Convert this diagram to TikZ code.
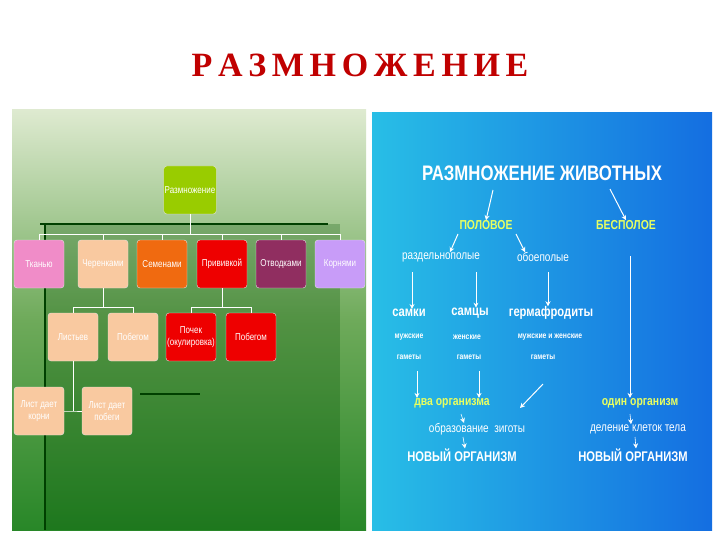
\documentclass[tikz,border=0pt]{standalone}
\usepackage{fontspec}
\setmainfont{Liberation Sans}
\newfontfamily\serifbf{Liberation Serif}
\newfontfamily\nar[FakeStretch=0.8]{Liberation Sans}
\usetikzlibrary{arrows.meta}
\definecolor{ttl}{HTML}{C00000}
\definecolor{ylw}{HTML}{E8FF60}
\begin{document}
\begin{tikzpicture}[x=1pt,y=-1pt,
  bx/.style={rounded corners=3pt,minimum width=50pt,minimum height=48pt,inner sep=1pt,align=center,font=\nar\fontsize{10}{11.5}\selectfont,text=white,draw=white!80!gray,line width=0.4pt},
  tl/.style={draw=white,line width=1pt},
  wt/.style={text=white,font=\nar\fontsize{14}{15}\selectfont\bfseries,inner sep=0pt},
  sm/.style={text=white,font=\nar\fontsize{8.5}{9}\selectfont\bfseries,inner sep=0pt},
  yl/.style={text=ylw,font=\nar\fontsize{13}{14}\selectfont\bfseries,inner sep=0pt},
  th/.style={text=white,font=\nar\fontsize{12.5}{13}\selectfont,inner sep=0pt},
  ar/.style={draw=white,line width=1pt,-{Stealth[length=5pt,width=5pt]}}]
\useasboundingbox (0,0) rectangle (720,540);
\fill[white] (0,0) rectangle (720,540);
\node (title) at (360,65) {\serifbf\fontsize{34}{36}\selectfont\bfseries\color{ttl}Р\,А\,З\,М\,Н\,О\,Ж\,Е\,Н\,И\,Е};
% left panel
\shade[top color={rgb,255:red,222;green,234;blue,208},bottom color={rgb,255:red,40;green,135;blue,40},middle color={rgb,255:red,110;green,170;blue,90}] (12,110) rectangle (366,530);
\fill[green!30!black,opacity=0.25] (45,224) rectangle (340,530);
\draw[green!25!black,line width=2pt] (40,224) -- (328,224);
\draw[green!25!black,line width=2pt] (45,224) -- (45,530);
\draw[green!25!black,line width=2pt] (140,394) -- (200,394);
\node[bx,fill={rgb,255:red,153;green,204;blue,0}] (root) at (190,190) {Размножение};
\node[bx,fill={rgb,255:red,240;green,140;blue,200}] (t1) at (39,264) {Тканью};
\node[bx,fill={rgb,255:red,249;green,201;blue,160}] (t2) at (103,264) {Черенками};
\node[bx,fill={rgb,255:red,240;green,106;blue,16}] (t3) at (162,264) {Семенами};
\node[bx,fill={rgb,255:red,238;green,0;blue,0}] (t4) at (222,264) {Прививкой};
\node[bx,fill={rgb,255:red,144;green,46;blue,96}] (t5) at (281,264) {Отводками};
\node[bx,fill={rgb,255:red,200;green,156;blue,248}] (t6) at (340,264) {Корнями};
\node[bx,fill={rgb,255:red,249;green,201;blue,160}] (l1) at (73,337) {Листьев};
\node[bx,fill={rgb,255:red,249;green,201;blue,160}] (l2) at (133,337) {Побегом};
\node[bx,fill={rgb,255:red,238;green,0;blue,0}] (r1) at (191,337) {Почек\\(окулировка)};
\node[bx,fill={rgb,255:red,238;green,0;blue,0}] (r2) at (251,337) {Побегом};
\node[bx,fill={rgb,255:red,249;green,201;blue,160}] (m1) at (39,411) {Лист дает\\корни};
\node[bx,fill={rgb,255:red,249;green,201;blue,160}] (m2) at (107,411) {Лист дает\\побеги};
\draw[tl] (root.south) -- ++(0,20) coordinate (hb);
\draw[tl] (t1.north) |- (hb) -| (t6.north);
\foreach \n in {t2,t3,t4,t5} \draw[tl] (\n.north) -- (\n.north |- hb);
\draw[tl] (t2.south) -- ++(0,19) coordinate (h2);
\draw[tl] (l1.north) |- (h2) -| (l2.north);
\draw[tl] (t4.south) -- ++(0,19) coordinate (h4);
\draw[tl] (r1.north) |- (h4) -| (r2.north);
\draw[tl] (l1.south) -- (l1.south |- m1) coordinate (h3);
\draw[tl] (m1.east) -- (h3) -- (m2.west);
% right panel
\shade[shading=axis,shading angle=135,left color={rgb,255:red,40;green,190;blue,230},right color={rgb,255:red,20;green,110;blue,225}] (372,113) rectangle (712,530);
\node[text=white,font=\nar\fontsize{21}{22}\selectfont\bfseries,inner sep=0pt] (rz) at (542,173) {РАЗМНОЖЕНИЕ ЖИВОТНЫХ};
\node[yl] (pol) at (486,225) {ПОЛОВОЕ};
\node[yl] (bes) at (626,225) {БЕСПОЛОЕ};
\node[th] (raz) at (441,257) {раздельнополые};
\node[th] (obo) at (543,257) {обоеполые};
\node[wt] (sk) at (409,313) {самки};
\node[wt] (sc) at (470,313) {самцы};
\node[wt] (gm) at (551,313) {гермафродиты};
\node[sm] (s1) at (409,337) {мужские};
\node[sm] (s2) at (467,337) {женские};
\node[sm] (s3) at (550,337) {мужские и женские};
\node[sm] (g1) at (409,357) {гаметы};
\node[sm] (g2) at (469,357) {гаметы};
\node[sm] (g3) at (543,357) {гаметы};
\node[yl] (dva) at (452,403) {два организма};
\node[th] (zig) at (477,429) {образование\ \ зиготы};
\node[wt] (no1) at (462,455) {НОВЫЙ ОРГАНИЗМ};
\node[yl] (odin) at (640,403) {один организм};
\node[th] (del) at (638,429) {деление клеток тела};
\node[wt] (no2) at (633,455) {НОВЫЙ ОРГАНИЗМ};
\coordinate (a1) at (493,190); \coordinate (a2) at (610,189);
\draw[ar] (a1) -- (pol.north);
\draw[ar] (a2) -- (bes.north);
\draw[ar] (458,234) -- (raz.north -| 450,0);
\draw[ar] (516,234) -- (obo.north -| 525,0);
\draw[ar] (412,272) -- (sk.north -| 412,0);
\draw[ar] (476,272) -- (sc.north -| 476,0);
\draw[ar] (548,272) -- (gm.north -| 548,0);
\draw[ar] (417,371) -- (dva.north -| 417,0);
\draw[ar] (479,371) -- (dva.north -| 479,0);
\coordinate (a3) at (543,384); \coordinate (a4) at (520,408);
\draw[ar] (a3) -- (a4);
\draw[ar] (630,256) -- (odin.north -| 630,0);
\draw[ar,line width=0.6pt] (461,414) -- (zig.north -| 464,0);
\draw[ar,line width=0.6pt] (630,414) -- (del.north -| 631,0);
\draw[ar,line width=0.6pt] (463,437) -- (no1.north -| 465,0);
\draw[ar,line width=0.6pt] (635,437) -- (no2.north -| 636,0);
\end{tikzpicture}
\end{document}
